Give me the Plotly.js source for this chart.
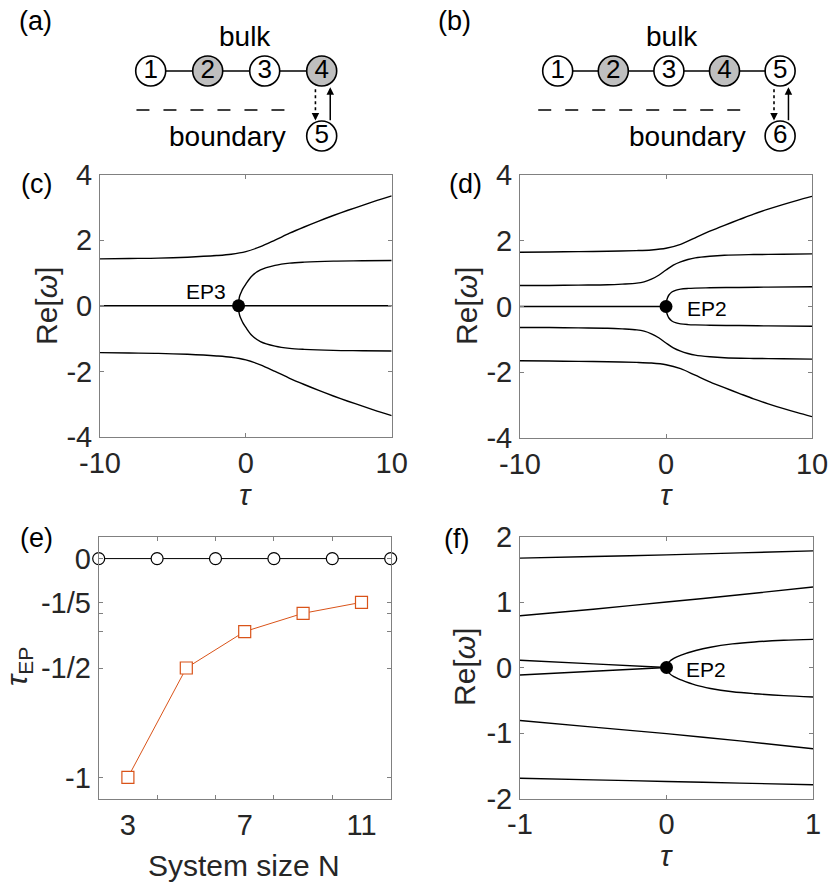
<!DOCTYPE html>
<html>
<head>
<meta charset="utf-8">
<script src="https://cdn.plot.ly/plotly-3.0.1.min.js"></script>
<style>
  html, body { margin: 0; padding: 0; background: #fff; }
  #fig { width: 830px; height: 886px; }
</style>
</head>
<body>
<div id="fig"></div>
<script>
// ---- data ----
// (a)/(b) chain schematics
const nodesA = ['1', '2', '3', '4'];
const boundaryA = '5';
const nodesB = ['1', '2', '3', '4', '5'];
const boundaryB = '6';
const shadedNodes = ['2', '4'];

// (c) N = 5, EP3 at tau = -1/2
const tauC = [-10, -8, -6, -4, -2, -1, 0, 1, 2, 3, 4, 5, 6, 7, 8, 9, 10];
const c1 = [1.43, 1.44, 1.45, 1.48, 1.53, 1.57, 1.65, 1.80, 2.00, 2.21, 2.40, 2.58, 2.75, 2.91, 3.06, 3.21, 3.35];
const c5 = [-1.43, -1.44, -1.45, -1.48, -1.53, -1.57, -1.65, -1.80, -2.00, -2.21, -2.40, -2.58, -2.75, -2.91, -3.06, -3.21, -3.35];
const tauCzero = [-10, 10];
const c3 = [0, 0];
const tauCsplit = [-0.5, -0.48, -0.45, -0.4, -0.3, -0.2, 0, 0.4, 1, 2, 3, 4, 6, 8, 10];
const c2 = [0, 0.15, 0.25, 0.33, 0.43, 0.52, 0.66, 0.90, 1.09, 1.23, 1.30, 1.33, 1.36, 1.37, 1.38];
const c4 = [0, -0.15, -0.25, -0.33, -0.43, -0.52, -0.66, -0.90, -1.09, -1.23, -1.30, -1.33, -1.36, -1.37, -1.38];
const epC = [-0.5, 0];

// (d) N = 6, EP2 at tau = 0
const tauD = [-10, -8, -6, -4, -2, -1, 0, 1, 2, 3, 4, 5, 6, 7, 8, 9, 10];
const d1 = [1.65, 1.66, 1.67, 1.68, 1.70, 1.72, 1.77, 1.89, 2.09, 2.29, 2.47, 2.64, 2.81, 2.96, 3.10, 3.23, 3.35];
const d5 = [-1.65, -1.66, -1.67, -1.68, -1.70, -1.72, -1.77, -1.89, -2.09, -2.29, -2.47, -2.64, -2.81, -2.96, -3.10, -3.23, -3.35];
const tauD2 = [-10, -8, -6, -4, -3, -2, -1.5, -1, -0.5, 0, 0.5, 1, 1.5, 2, 3, 4, 6, 8, 10];
const d2 = [0.64, 0.64, 0.65, 0.66, 0.68, 0.71, 0.75, 0.83, 0.95, 1.11, 1.26, 1.36, 1.43, 1.48, 1.53, 1.56, 1.58, 1.59, 1.60];
const d4 = [-0.64, -0.64, -0.65, -0.66, -0.68, -0.71, -0.75, -0.83, -0.95, -1.11, -1.26, -1.36, -1.43, -1.48, -1.53, -1.56, -1.58, -1.59, -1.60];
const tauDzero = [-10, 0];
const d3 = [0, 0];
const tauDsplit = [0, 0.03, 0.1, 0.2, 0.4, 0.7, 1, 1.5, 2, 3, 5, 7, 10];
const d3up = [0, 0.15, 0.26, 0.35, 0.44, 0.50, 0.53, 0.55, 0.56, 0.57, 0.58, 0.59, 0.60];
const d3lo = [0, -0.15, -0.26, -0.35, -0.44, -0.50, -0.53, -0.55, -0.56, -0.57, -0.58, -0.59, -0.60];
const epD = [0, 0];

// (e) tau_EP vs system size
const nOdd = [3, 5, 7, 9, 11];
const tauEPodd = [-1, -1 / 2, -1 / 3, -1 / 4, -1 / 5];
const nEven = [2, 4, 6, 8, 10, 12];
const tauEPeven = [0, 0, 0, 0, 0, 0];
const eTickVals = [-1, -1 / 2, -1 / 3, -1 / 4, -1 / 5, 0];
const eTickText = ['-1', '-1/2', '', '', '-1/5', '0'];

// (f) zoom of (d) near tau = 0
const tauF = [-1, -0.5, 0, 0.5, 1];
const f1 = [1.67, 1.695, 1.72, 1.75, 1.78];
const f2 = [0.79, 0.89, 1.00, 1.11, 1.23];
const f4 = [-0.81, -0.91, -1.01, -1.12, -1.24];
const f5 = [-1.69, -1.715, -1.74, -1.765, -1.79];
const tauFpre = [-1, -0.5, 0];
const fPreUp = [0.11, 0.055, 0];
const fPreLo = [-0.115, -0.058, 0];
const tauFpost = [0, 0.02, 0.05, 0.1, 0.2, 0.3, 0.45, 0.6, 0.8, 1];
const fPostUp = [0, 0.09, 0.14, 0.19, 0.26, 0.31, 0.36, 0.39, 0.415, 0.43];
const fPostLo = [0, -0.09, -0.14, -0.19, -0.27, -0.32, -0.37, -0.40, -0.43, -0.45];
const epF = [0, 0];

// ---- helpers ----
const W = 830, H = 886;
const FONT = 'Arial, "Liberation Sans", Helvetica, sans-serif';
const INK = '#262626';
const FRAME = '#808080';
const ORANGE = '#D95319';

function domX(l, r) { return [l / W, r / W]; }
function domY(t, b) { return [1 - b / H, 1 - t / H]; }

function axis(dom, range, vals, texts, anchor, standoff) {
  return {
    domain: dom, range: range, anchor: anchor,
    tickmode: 'array', tickvals: vals, ticktext: texts,
    ticks: 'inside', ticklen: 4, tickwidth: 1, tickcolor: FRAME,
    showline: true, linecolor: FRAME, linewidth: 1, mirror: 'ticks',
    showgrid: false, zeroline: false, fixedrange: true,
    tickfont: {family: FONT, size: 29, color: INK},
    ticklabelstandoff: standoff
  };
}

const traces = [];
function curve(x, y, n) {
  traces.push({
    x: x, y: y, xaxis: 'x' + n, yaxis: 'y' + n, mode: 'lines',
    line: {color: '#000', width: 1.4, shape: 'spline', smoothing: 0.9},
    hoverinfo: 'skip'
  });
}
function dot(p, n) {
  traces.push({
    x: [p[0]], y: [p[1]], xaxis: 'x' + n, yaxis: 'y' + n, mode: 'markers',
    marker: {color: '#000', size: 13}, hoverinfo: 'skip', cliponaxis: false
  });
}

// (c)
curve(tauC, c1, ''); curve(tauC, c5, '');
curve(tauCzero, c3, '');
curve(tauCsplit, c2, ''); curve(tauCsplit, c4, '');
dot(epC, '');

// (d)
curve(tauD, d1, 2); curve(tauD, d5, 2);
curve(tauD2, d2, 2); curve(tauD2, d4, 2);
curve(tauDzero, d3, 2);
curve(tauDsplit, d3up, 2); curve(tauDsplit, d3lo, 2);
dot(epD, 2);

// (e)
traces.push({
  x: nEven, y: tauEPeven, xaxis: 'x3', yaxis: 'y3', mode: 'lines+markers',
  line: {color: '#000', width: 1},
  marker: {symbol: 'circle', size: 12, color: '#fff', line: {color: '#000', width: 1.2}},
  cliponaxis: false, hoverinfo: 'skip'
});
traces.push({
  x: nOdd, y: tauEPodd, xaxis: 'x3', yaxis: 'y3', mode: 'lines+markers',
  line: {color: ORANGE, width: 1},
  marker: {symbol: 'square', size: 12, color: '#fff', line: {color: ORANGE, width: 1.2}},
  cliponaxis: false, hoverinfo: 'skip'
});

// (f)
curve(tauF, f1, 4); curve(tauF, f2, 4); curve(tauF, f4, 4); curve(tauF, f5, 4);
curve(tauFpre, fPreUp, 4); curve(tauFpre, fPreLo, 4);
curve(tauFpost, fPostUp, 4); curve(tauFpost, fPostLo, 4);
dot(epF, 4);

// schematics (a) and (b): node index along x, bulk row y = 0, boundary row y = -1
const annotations = [];
function chain(nodes, boundary, n, dashFrom, dashTo, bulkX, boundaryRight) {
  const xa = 'x' + n, ya = 'y' + n;
  const idx = nodes.map((_, i) => i + 1);
  const L = idx.length;
  const all = nodes.concat([boundary]);
  traces.push({
    x: idx, y: idx.map(() => 0), xaxis: xa, yaxis: ya, mode: 'lines',
    line: {color: '#000', width: 1.5}, hoverinfo: 'skip'
  });
  traces.push({
    x: [dashFrom, dashTo], y: [-0.6, -0.6], xaxis: xa, yaxis: ya, mode: 'lines',
    line: {color: '#000', width: 1.3, dash: '13px,14px'}, hoverinfo: 'skip'
  });
  traces.push({
    x: [L - 0.11, L - 0.11], y: [-0.28, -0.70], xaxis: xa, yaxis: ya, mode: 'lines',
    line: {color: '#000', width: 1.6, dash: 'dot'}, hoverinfo: 'skip'
  });
  traces.push({
    x: idx.concat([L]), y: idx.map(() => 0).concat([-1]), xaxis: xa, yaxis: ya,
    mode: 'markers+text', text: all, textposition: 'middle center',
    textfont: {family: FONT, size: 26, color: '#000'},
    marker: {size: 30, color: all.map(l => shadedNodes.includes(l) ? '#bfbfbf' : '#fff'),
             line: {color: '#000', width: 1.6}},
    cliponaxis: false, hoverinfo: 'skip'
  });
  annotations.push({
    xref: xa, yref: ya, axref: xa, ayref: ya, x: L + 0.15, y: -0.25, ax: L + 0.15, ay: -0.78,
    text: '', showarrow: true, arrowhead: 2, arrowsize: 1, arrowwidth: 1.5, arrowcolor: '#000'
  });
  annotations.push({
    xref: xa, yref: ya, axref: xa, ayref: ya, x: L - 0.11, y: -0.76, ax: L - 0.11, ay: -0.70,
    text: '', showarrow: true, arrowhead: 2, arrowsize: 1, arrowwidth: 1.5, arrowcolor: '#000'
  });
  annotations.push({
    xref: xa, yref: ya, x: bulkX, y: 0.53, text: 'bulk', showarrow: false,
    font: {family: FONT, size: 28, color: '#000'}, xanchor: 'center', yanchor: 'middle'
  });
  annotations.push({
    xref: xa, yref: ya, x: boundaryRight, y: -1, text: 'boundary', showarrow: false,
    font: {family: FONT, size: 28, color: '#000'}, xanchor: 'right', yanchor: 'middle'
  });
}
chain(nodesA, boundaryA, 5, 0.75, 3.53, 2.65, 3.40);
chain(nodesB, boundaryB, 6, 0.65, 4.52, 3.05, 4.42);

// text labels in pixel positions
function textAt(px, py, text, size, angle, anchor) {
  annotations.push({
    xref: 'paper', yref: 'paper', x: px / W, y: 1 - py / H, text: text, showarrow: false,
    textangle: angle || 0, xanchor: anchor || 'center', yanchor: 'middle',
    font: {family: FONT, size: size, color: angle === undefined ? '#000' : INK}
  });
}
textAt(35, 21, '(a)', 27);
textAt(454, 21, '(b)', 27);
textAt(36, 184, '(c)', 27);
textAt(465, 184, '(d)', 27);
textAt(36, 538, '(e)', 27);
textAt(456, 539, '(f)', 27);

textAt(46, 306, 'Re[<i>ω</i>]', 30, -90);
textAt(466, 306, 'Re[<i>ω</i>]', 30, -90);
textAt(245, 494, '<i>τ</i>', 30, 0);
textAt(666, 494, '<i>τ</i>', 30, 0);
textAt(18, 667, '<i>τ</i><sub>EP</sub>', 30, -90);
textAt(464, 667, 'Re[<i>ω</i>]', 30, -90);
textAt(244, 865, 'System size N', 30, 0);
textAt(666, 855, '<i>τ</i>', 30, 0);

annotations.push({xref: 'x', yref: 'y', x: -1.2, y: 0.42, text: 'EP3', showarrow: false,
  xanchor: 'right', yanchor: 'middle', font: {family: FONT, size: 21, color: '#000'}});
annotations.push({xref: 'x2', yref: 'y2', x: 1.3, y: -0.06, text: 'EP2', showarrow: false,
  xanchor: 'left', yanchor: 'middle', font: {family: FONT, size: 21, color: '#000'}});
annotations.push({xref: 'x4', yref: 'y4', x: 0.12, y: -0.03, text: 'EP2', showarrow: false,
  xanchor: 'left', yanchor: 'middle', font: {family: FONT, size: 21, color: '#000'}});

const yTicks4 = [-4, -2, 0, 2, 4];
const xTicks10 = [-10, 0, 10];

const xE = axis(domX(98.7, 390.7), [2, 12], [3, 7, 11], ['3', '7', '11'], 'y3', 0);
xE.ticklen = 0;
xE.minor = {tickvals: [4, 6, 8, 10], ticks: 'inside', ticklen: 4, tickcolor: FRAME};

const layout = {
  width: W, height: H,
  margin: {l: 0, r: 0, t: 0, b: 0},
  paper_bgcolor: '#fff', plot_bgcolor: '#fff',
  showlegend: false,
  font: {family: FONT, color: INK},
  xaxis: axis(domX(100, 391.7), [-10, 10], xTicks10, ['-10', '0', '10'], 'y', 0),
  yaxis: axis(domY(174.5, 437), [-4, 4], yTicks4, ['-4', '-2', '0', '2', '4'], 'x', 1),
  xaxis2: axis(domX(520, 812), [-10, 10], xTicks10, ['-10', '0', '10'], 'y2', 0),
  yaxis2: axis(domY(175, 438), [-4, 4], yTicks4, ['-4', '-2', '0', '2', '4'], 'x2', 1),
  xaxis3: xE,
  yaxis3: axis(domY(536.7, 799.3), [-1.1, 0.1], eTickVals, eTickText, 'x3', 1),
  xaxis4: axis(domX(520, 813), [-1, 1], [-1, 0, 1], ['-1', '0', '1'], 'y4', 0),
  yaxis4: axis(domY(536.5, 798.5), [-2, 2], [-2, -1, 0, 1, 2], ['-2', '-1', '0', '1', '2'], 'x4', 1),
  xaxis5: {domain: [0, 0.5], range: [-1.644, 5.637], visible: false, fixedrange: true, anchor: 'y5'},
  yaxis5: {domain: domY(0, 160), range: [-1.369, 1.092], visible: false, fixedrange: true, anchor: 'x5'},
  xaxis6: {domain: [0.5, 1], range: [-1.566, 5.897], visible: false, fixedrange: true, anchor: 'y6'},
  yaxis6: {domain: domY(0, 160), range: [-1.369, 1.092], visible: false, fixedrange: true, anchor: 'x6'},
  annotations: annotations
};

Plotly.newPlot('fig', traces, layout, {staticPlot: true, displayModeBar: false});
</script>
</body>
</html>
